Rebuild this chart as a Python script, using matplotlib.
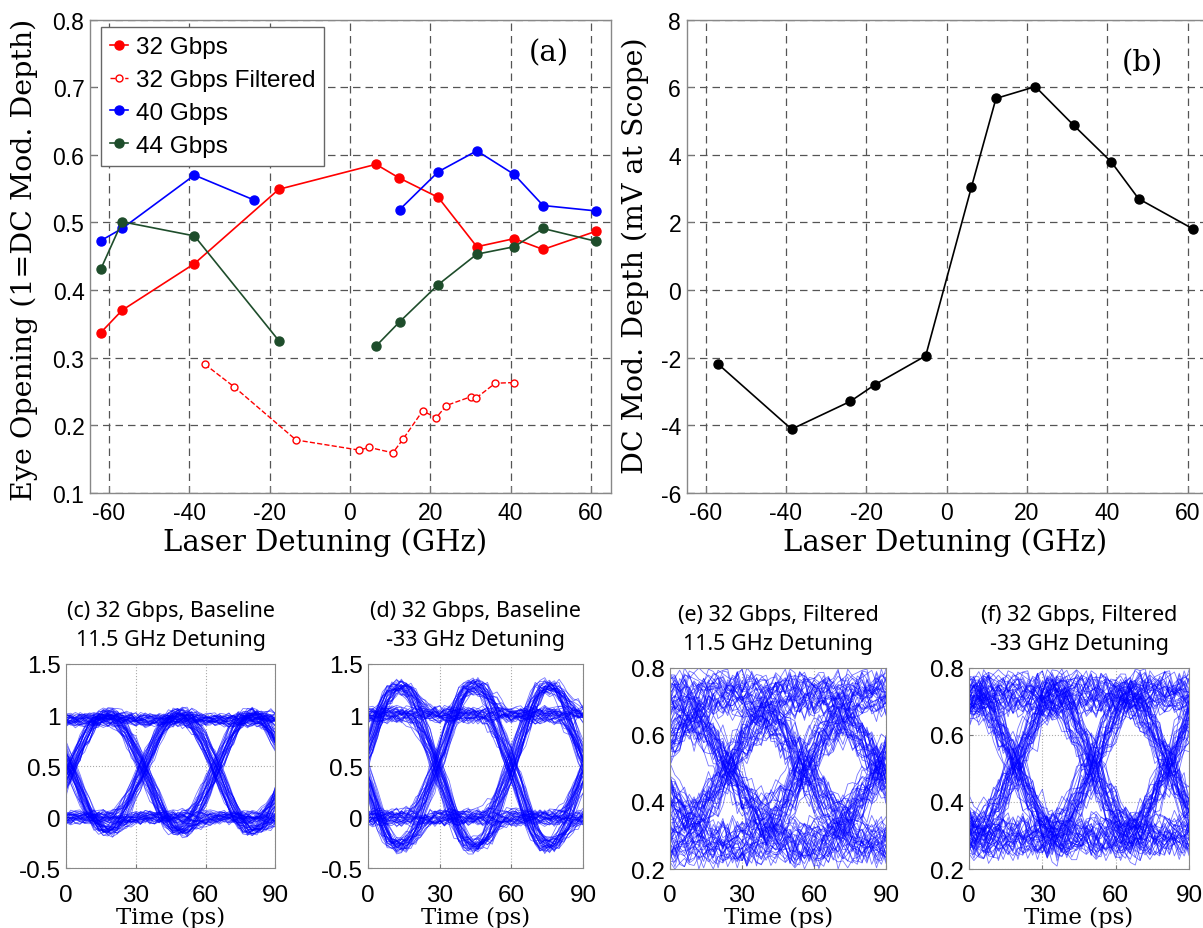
import numpy as np
import matplotlib.pyplot as plt
from itertools import product

plt.rcParams['axes.unicode_minus'] = False
nan = float('nan')

# ---- panel (a): eye opening vs laser detuning
det_32 = [-62.0, -56.7, -38.7, -17.7, 6.5, 12.2, 22.0, 31.6, 40.9, 48.1, 61.3]
eye_32 = [0.337, 0.370, 0.439, 0.549, 0.586, 0.566, 0.537, 0.464, 0.476, 0.460, 0.487]

det_32f = [-36.1, -28.9, -13.4, 2.3, 4.8, 10.7, 13.2, 18.1, 21.5, 24.0, 30.1, 31.4, 36.2, 40.9]
eye_32f = [0.290, 0.257, 0.178, 0.163, 0.167, 0.159, 0.179, 0.221, 0.211, 0.229, 0.242, 0.240, 0.262, 0.263]

det_40 = [-62.0, -56.7, -38.7, -23.8, nan, 12.4, 22.0, 31.6, 40.9, 48.1, 61.3]
eye_40 = [0.473, 0.491, 0.570, 0.533, nan, 0.519, 0.575, 0.606, 0.571, 0.525, 0.517]

det_44 = [-62.0, -56.7, -38.7, -17.7, nan, 6.5, 12.4, 22.0, 31.6, 40.9, 48.1, 61.3]
eye_44 = [0.431, 0.501, 0.480, 0.325, nan, 0.317, 0.353, 0.408, 0.453, 0.464, 0.491, 0.472]

# ---- panel (b): DC modulation depth vs detuning
det_dc = [-57.0, -38.6, -24.0, -17.8, -5.2, 6.2, 12.3, 22.1, 31.6, 41.0, 47.8, 61.3]
dc_depth = [-2.18, -4.12, -3.30, -2.80, -1.95, 3.05, 5.67, 6.02, 4.88, 3.79, 2.70, 1.81]

# ---- panels (c)-(f): eye diagrams
eye_titles = ['(c) 32 Gbps, Baseline\n11.5 GHz Detuning',
              '(d) 32 Gbps, Baseline\n-33 GHz Detuning',
              '(e) 32 Gbps, Filtered\n11.5 GHz Detuning',
              '(f) 32 Gbps, Filtered\n-33 GHz Detuning']
eye_ylim = [(-0.5, 1.5), (-0.5, 1.5), (0.2, 0.8), (0.2, 0.8)]
eye_yticks = [[-0.5, 0, 0.5, 1, 1.5], [-0.5, 0, 0.5, 1, 1.5],
              [0.2, 0.4, 0.6, 0.8], [0.2, 0.4, 0.6, 0.8]]
eye_ylabels = [['-0.5', '0', '0.5', '1', '1.5'], ['-0.5', '0', '0.5', '1', '1.5'],
               ['0.2', '0.4', '0.6', '0.8'], ['0.2', '0.4', '0.6', '0.8']]
bit_period = 31.25                     # ps
eye_cross = [2.0, -2.5, -6.8, -12.0]   # first crossing (ps)
eye_high = [0.95, 1.0, 0.72, 0.72]
eye_low = [0.0, 0.0, 0.28, 0.30]
eye_rise = [0.95, 0.85, 1.7, 1.3]      # transition width, in bit periods
eye_over_up = [0.06, 0.28, 0.0, 0.02]
eye_over_dn = [0.13, 0.28, 0.0, 0.02]
eye_noise = [0.035, 0.045, 0.035, 0.035]
eye_spread = [0.04, 0.05, 0.045, 0.04]

# typed trace-to-trace scatter (no random numbers)
WIGGLE = [0.3, -0.8, 0.6, 0.1, -0.4, 0.9, -1.0, 0.2, 0.7, -0.3, -0.6, 1.0, -0.1, 0.5,
          -0.9, 0.4, 0.0, -0.5, 0.8, -0.2, 0.6, -0.7, 0.1, 0.9, -0.4, 0.3, -0.8, 0.5, -0.1]
OFFSETS = [-1.0, -0.5, 0.0, 0.6, 1.0, -0.8, 0.3, 0.8, -0.2, 0.4, -0.6]
JITTER = [-1.0, 0.5, -0.3, 0.9, 0.0, -0.7, 0.4, 1.0, -0.5, 0.2, -0.9, 0.7, 0.1]

SANS = 'Liberation Sans'
SERIF = 'DejaVu Serif'
TITLE = 'Noto Sans'


def eye_traces(k):
    T = bit_period
    t = np.arange(0, 91, 2.0)
    W = eye_rise[k] * T
    wig = np.array(WIGGLE)
    traces = []
    patterns = list(product([0, 1], repeat=6))
    for j in range(2 * len(patterns)):
        bits = patterns[j % len(patterns)]
        tcs = eye_cross[k] + 2.0 * JITTER[j % len(JITTER)] + T * np.arange(-1, 4)
        s = np.full_like(t, float(bits[0]))
        ov = np.zeros_like(t)
        for m, tc in enumerate(tcs):
            d = bits[m + 1] - bits[m]
            if d == 0:
                continue
            v = np.clip((t - tc) / W + 0.5, 0, 1)
            s += d * (0.5 - 0.5 * np.cos(np.pi * v))
            u = (t - tc) / T
            bump = np.where((u > 0) & (u < 1), np.sin(np.pi * u) ** 2, 0.0)
            ov += d * bump * (eye_over_up[k] if d > 0 else eye_over_dn[k])
        idx = (np.arange(len(t)) * ((j % 28) + 1) + 3 * j) % len(wig)
        y = (eye_low[k] + (eye_high[k] - eye_low[k]) * s + ov
             + eye_spread[k] * OFFSETS[j % len(OFFSETS)] + eye_noise[k] * wig[idx])
        traces.append(y)
    return t, traces


fig = plt.figure(figsize=(12.03, 9.29), dpi=100)


def style_top(ax):
    ax.set_xlim(-64.7, 65)
    ax.set_xticks(range(-60, 61, 20))
    ax.grid(True, ls=(0, (6, 4)), color='#555555', lw=0.9)
    ax.tick_params(direction='in', length=5, labelsize=16.5, pad=6, color='#777777')
    ax.tick_params(axis='y', pad=4)
    for lab in ax.get_xticklabels() + ax.get_yticklabels():
        lab.set_family(SANS)
    for sp in ax.spines.values():
        sp.set_color('#888888')
        sp.set_linewidth(1.0)


# ---- (a)
ax = fig.add_axes([0.0748, 0.4686, 0.4331, 0.5091])
ax.plot(det_32, eye_32, '-o', color='#ff0000', lw=1.2, ms=6.5, label='32 Gbps')
ax.plot(det_32f, eye_32f, '--o', color='#ff0000', mfc='white', lw=1.0, ms=5,
        label='32 Gbps Filtered')
ax.plot(det_40, eye_40, '-o', color='#0000ff', lw=1.2, ms=6.5, label='40 Gbps')
ax.plot(det_44, eye_44, '-o', color='#1e4d2b', lw=1.2, ms=6.5, label='44 Gbps')
ax.set_ylim(0.1, 0.8)
ax.set_yticks(np.arange(0.1, 0.81, 0.1))
ax.set_yticklabels(['0.1', '0.2', '0.3', '0.4', '0.5', '0.6', '0.7', '0.8'])
style_top(ax)
ax.set_xlabel('Laser Detuning (GHz)', family=SERIF, size=21)
ax.xaxis.set_label_coords(0.451, -0.072)
ax.set_ylabel('Eye Opening (1=DC Mod. Depth)', family=SERIF, size=20.5)
ax.yaxis.set_label_coords(-0.100, 0.494)
ax.text(0.88, 0.93, '(a)', transform=ax.transAxes, family=SERIF, size=21,
        ha='center', va='center')
leg = ax.legend(loc='upper left', bbox_to_anchor=(0.021, 0.985), borderaxespad=0,
                prop={'family': SANS, 'size': 17.5}, handlelength=0.75,
                handletextpad=0.3, labelspacing=0.45, borderpad=0.38,
                fancybox=False, edgecolor='#666666', framealpha=1)
leg.get_frame().set_linewidth(1.0)

# ---- (b)
ax = fig.add_axes([0.5708, 0.4686, 0.4331, 0.5091])
ax.plot(det_dc, dc_depth, '-o', color='black', lw=1.2, ms=6.5)
ax.set_ylim(-6, 8)
ax.set_yticks(range(-6, 9, 2))
style_top(ax)
ax.set_xlabel('Laser Detuning (GHz)', family=SERIF, size=21)
ax.xaxis.set_label_coords(0.496, -0.072)
ax.set_ylabel('DC Mod. Depth (mV at Scope)', family=SERIF, size=20.5)
ax.yaxis.set_label_coords(-0.072, 0.504)
ax.text(0.875, 0.91, '(b)', transform=ax.transAxes, family=SERIF, size=21,
        ha='center', va='center')

# ---- (c)-(f)
eye_pos = [[0.0549, 0.0643, 0.1741, 0.2199],
           [0.3059, 0.0643, 0.1787, 0.2199],
           [0.5570, 0.0635, 0.1796, 0.2164],
           [0.8055, 0.0635, 0.1829, 0.2164]]
for k in range(4):
    ax = fig.add_axes(eye_pos[k])
    t, traces = eye_traces(k)
    for y in traces:
        ax.plot(t, y, color='#0000ff', lw=0.6, alpha=0.55)
    ax.set_xlim(0, 90)
    ax.set_ylim(*eye_ylim[k])
    ax.set_xticks([0, 30, 60, 90])
    ax.set_yticks(eye_yticks[k])
    ax.set_yticklabels(eye_ylabels[k])
    ax.grid(True, ls=':', color='#aaaaaa', lw=0.8)
    ax.tick_params(direction='in', length=3, labelsize=17.5, color='#777777')
    ax.tick_params(axis='x', pad=11)
    ax.tick_params(axis='y', pad=4)
    for lab in ax.get_xticklabels() + ax.get_yticklabels():
        lab.set_family(SANS)
    for sp in ax.spines.values():
        sp.set_color('#888888')
    ax.set_xlabel('Time (ps)', family=SERIF, size=16.5, labelpad=0)
    ax.set_title(eye_titles[k], family=TITLE, size=15.5, pad=14, linespacing=1.45)

fig.savefig('out.png', dpi=100)
